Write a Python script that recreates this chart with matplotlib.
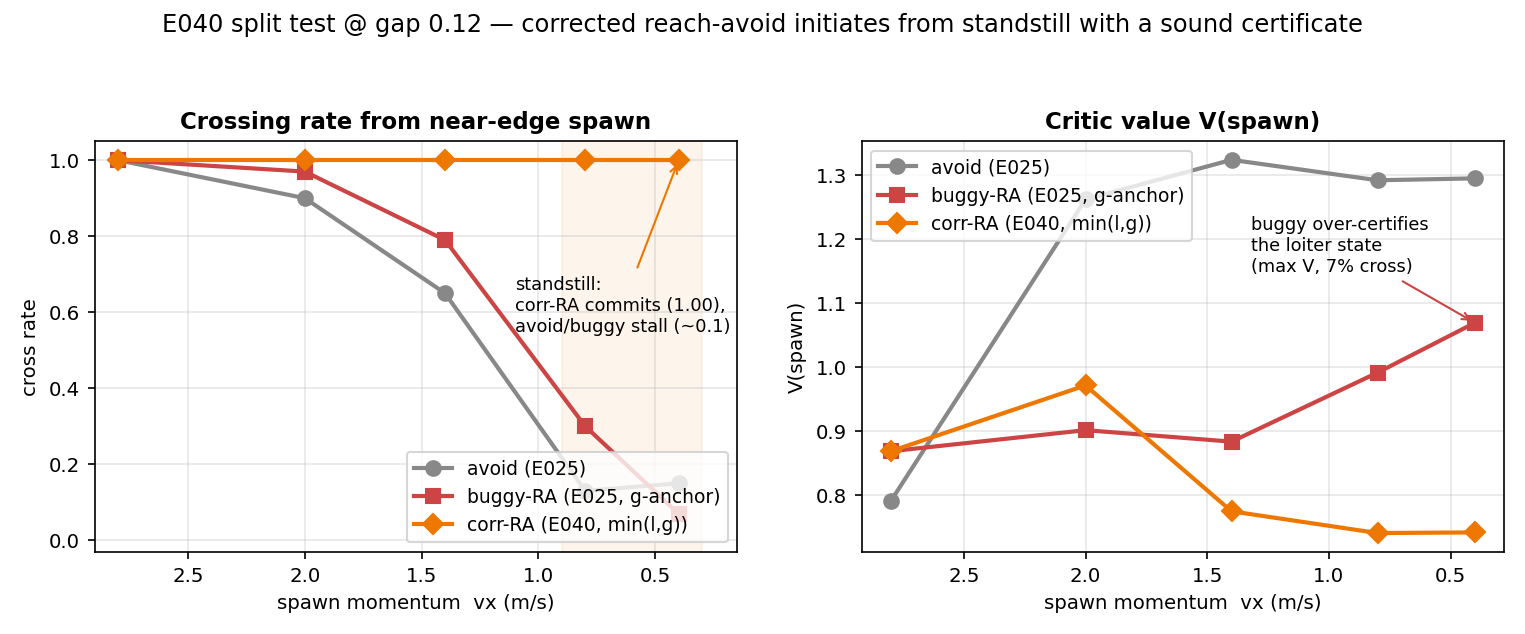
import matplotlib
matplotlib.use("Agg")
import matplotlib.pyplot as plt

plt.rcParams["font.size"] = 9.5

vx = [2.8, 2.0, 1.4, 0.8, 0.4]
cross_avoid = [1.0, 0.90, 0.65, 0.13, 0.15]
cross_buggy = [1.0, 0.97, 0.79, 0.30, 0.07]
cross_corr = [1.0, 1.0, 1.0, 1.0, 1.0]
v_avoid = [0.79, 1.262, 1.324, 1.292, 1.295]
v_buggy = [0.868, 0.901, 0.883, 0.991, 1.069]
v_corr = [0.868, 0.971, 0.774, 0.740, 0.741]
labels = ["avoid (E025)", "buggy-RA (E025, g-anchor)", "corr-RA (E040, min(l,g))"]
colors = ["#888888", "#cc4444", "#ee7700"]
markers = ["o", "s", "D"]

fig, axes = plt.subplots(1, 2, figsize=(10.17, 4.23), dpi=150)
fig.suptitle("E040 split test @ gap 0.12 — corrected reach-avoid initiates from standstill with a sound certificate", fontsize=11.6)

ax = axes[0]
ax.axvspan(0.3, 0.9, color="#ee7700", alpha=0.08)
for ys, l, c, m in zip([cross_avoid, cross_buggy, cross_corr], labels, colors, markers):
    ax.plot(vx, ys, marker=m, color=c, label=l, lw=2, ms=7)
ax.invert_xaxis()
ax.set_xlim(2.9, 0.15)
ax.set_ylim(-0.03, 1.05)
ax.set_title("Crossing rate from near-edge spawn", fontweight="bold", fontsize=11)
ax.set_xlabel("spawn momentum  vx (m/s)")
ax.set_ylabel("cross rate")
ax.grid(alpha=0.3)
ax.legend(loc="lower right", fontsize=9)
ax.annotate("standstill:\ncorr-RA commits (1.00),\navoid/buggy stall (~0.1)", xy=(0.4, 1.0), xytext=(1.1, 0.55),
            fontsize=8.5, arrowprops=dict(arrowstyle="->", color="#ee7700"), ha="left")

ax = axes[1]
for ys, l, c, m in zip([v_avoid, v_buggy, v_corr], labels, colors, markers):
    ax.plot(vx, ys, marker=m, color=c, label=l, lw=2, ms=7)
ax.invert_xaxis()
ax.set_title("Critic value V(spawn)", fontweight="bold", fontsize=11)
ax.set_xlabel("spawn momentum  vx (m/s)")
ax.set_ylabel("V(spawn)")
ax.grid(alpha=0.3)
ax.legend(loc="upper left", fontsize=9)
ax.annotate("buggy over-certifies\nthe loiter state\n(max V, 7% cross)", xy=(0.4, 1.069), xytext=(1.32, 1.15),
            fontsize=8.5, arrowprops=dict(arrowstyle="->", color="#cc4444"), ha="left")

fig.tight_layout(rect=(0, 0, 1, 0.93))
fig.savefig("out.png", dpi=150)
